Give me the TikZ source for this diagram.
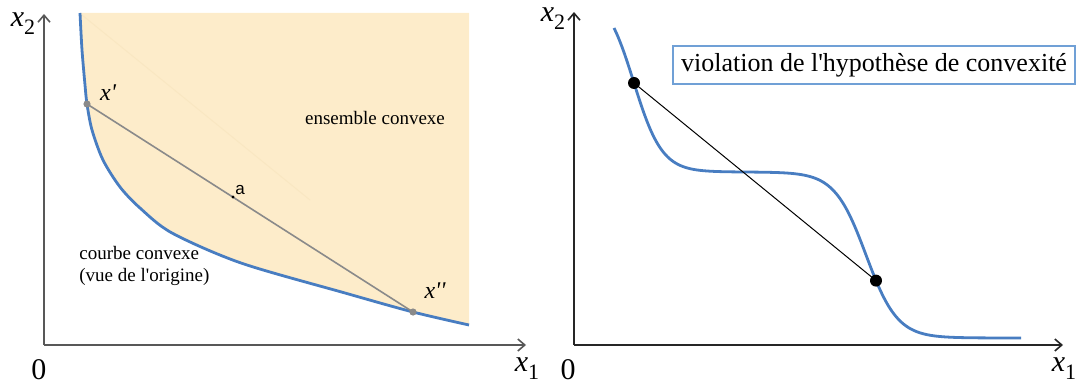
\documentclass[tikz,border=0pt]{standalone}
\usepackage{fontspec}
\setmainfont{LiberationSerif}[Extension=.ttf, UprightFont=*-Regular,
  ItalicFont=*-Italic, BoldFont=*-Bold, BoldItalicFont=*-BoldItalic]
\setsansfont{Liberation Sans}
\usetikzlibrary{arrows.meta}
\definecolor{curveblue}{RGB}{72,125,193}
\definecolor{setfill}{RGB}{253,236,202}
\definecolor{setline}{RGB}{249,231,194}
\definecolor{boxblue}{RGB}{112,160,214}
\definecolor{chordgray}{RGB}{138,138,138}
\definecolor{axisgray}{RGB}{88,88,88}
\newcommand{\varx}[1]{\textit{x}\raisebox{-4pt}{\fontsize{11}{11}\selectfont #1}}
\newcommand{\apos}{\textquotesingle}

\begin{document}
\begin{tikzpicture}[x=0.5pt,y=-0.5pt,
  axis/.style={-{Straight Barb[length=3.5pt,width=6pt]}, line width=0.8pt},
  curve/.style={curveblue, line width=1.4pt},
  axlabel/.style={font=\fontsize{15}{15}\selectfont, inner sep=0pt},
  note/.style={font=\fontsize{9.5}{11}\selectfont, inner sep=0pt}]
  \useasboundingbox (0,0) rectangle (1079,385);

  % left: convex set above a convex curve
  \coordinate (O1) at (44,345);
  \coordinate (Y1) at (44,14);
  \coordinate (X1) at (526,345);
  \fill[setfill] plot[smooth] coordinates {(80,13) (82,50) (85,85) (87,104) (92,130)
    (103,160) (120,187) (140,208) (172,233) (241,263) (345,293) (413,312) (469,325)}
    -- (469,13) -- cycle;
  \draw[setline, line width=0.5pt] (82,15) -- (310,200);
  \draw[axis, axisgray] (O1) -- (Y1);
  \draw[axis, axisgray] (O1) -- (X1);
  \draw[curve] plot[smooth] coordinates {(80,13) (82,50) (85,85) (87,104) (92,130)
    (103,160) (120,187) (140,208) (172,233) (241,263) (345,293) (413,312) (469,325)};
  \coordinate (xp) at (87,104);
  \coordinate (xpp) at (413,312);
  \coordinate (a) at (233,197);
  \draw[chordgray, line width=0.8pt] (xp) -- (xpp);
  \fill[chordgray] (xp) circle (1.8pt) (xpp) circle (1.8pt);
  \fill (a) circle (0.8pt);
  \node[font=\sffamily\fontsize{8.5}{9}\selectfont, anchor=south west, inner sep=1pt] (alab) at (a) {a};
  \node[font=\fontsize{12}{12}\selectfont\itshape, inner sep=0pt] (xplab) at (108,93) {x\apos};
  \node[font=\fontsize{12}{12}\selectfont\itshape, inner sep=0pt] (xpplab) at (435,291) {x\apos\apos};
  \node[note] (setlab) at (375,118) {ensemble convexe};
  \node[note, align=left, anchor=west] (curvelab) at (79,266) {courbe convexe\\(vue de l\apos origine)};
  \node[axlabel] (ytwoL) at (23,24) {\varx{2}};
  \node[axlabel] (xoneL) at (527,369) {\varx{1}};
  \node[axlabel] (zeroL) at (39,370) {0};

  % right: a curve that is not convex
  \coordinate (O2) at (574,345);
  \coordinate (Y2) at (574,12);
  \coordinate (X2) at (1063,345);
  \draw[axis, black!85] (O2) -- (Y2);
  \draw[axis, black!85] (O2) -- (X2);
  \draw[curve] plot[domain=614:1021, samples=160, smooth]
    (\x, {172 - 180/(1+exp(min((\x-633.7)/14.2,9))) + 166/(1+exp(min((866-\x)/15.7,9)))});
  \coordinate (p) at (634,83);
  \coordinate (q) at (876,280.6);
  \draw[line width=0.5pt] (p) -- (q);
  \fill (p) circle (3pt) (q) circle (3pt);
  \node[draw=boxblue, line width=0.6pt, fill=white, font=\fontsize{13}{13}\selectfont,
    minimum width=201pt, minimum height=19pt, inner sep=0pt] (viol) at (874,65)
    {violation de l\apos hypothèse de convexité};
  \node[axlabel] (ytwoR) at (553,19) {\varx{2}};
  \node[axlabel] (xoneR) at (1064,369) {\varx{1}};
  \node[axlabel] (zeroR) at (568,370) {0};
\end{tikzpicture}
\end{document}
